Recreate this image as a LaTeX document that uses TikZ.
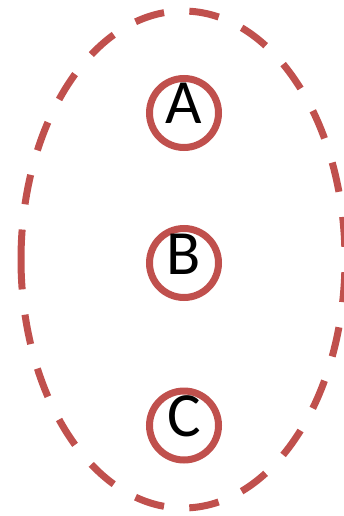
\documentclass[tikz,border=0pt]{standalone}
\usepackage{fontspec}
\setmainfont{Carlito}
\usepackage{xcolor}
\definecolor{ringred}{RGB}{192, 80, 77}

\begin{document}
\begin{tikzpicture}[x=1pt, y=-1pt,
    letter/.style={
        circle, draw=ringred, line width=7pt, minimum size=69pt,
        inner sep=0pt, text=black,
        font=\fontsize{63pt}{63pt}\selectfont,
        text height=40pt, text depth=18pt
    },
    group_line/.style={draw=ringred, line width=7pt,
        dash pattern=on 30pt off 25.4pt},
]
\useasboundingbox (0,0) rectangle (343,516);

% ================= dashed group =================
\draw[group_line] (21,259.5) arc[start angle=180, end angle=540,
    x radius=162, y radius=248.5];

% ================= members =================
\node[letter] (A) at (184,113) {A};
\node[letter] (B) at (184,263) {B};
\node[letter] (C) at (184,425.5) {C};

\end{tikzpicture}
\end{document}
